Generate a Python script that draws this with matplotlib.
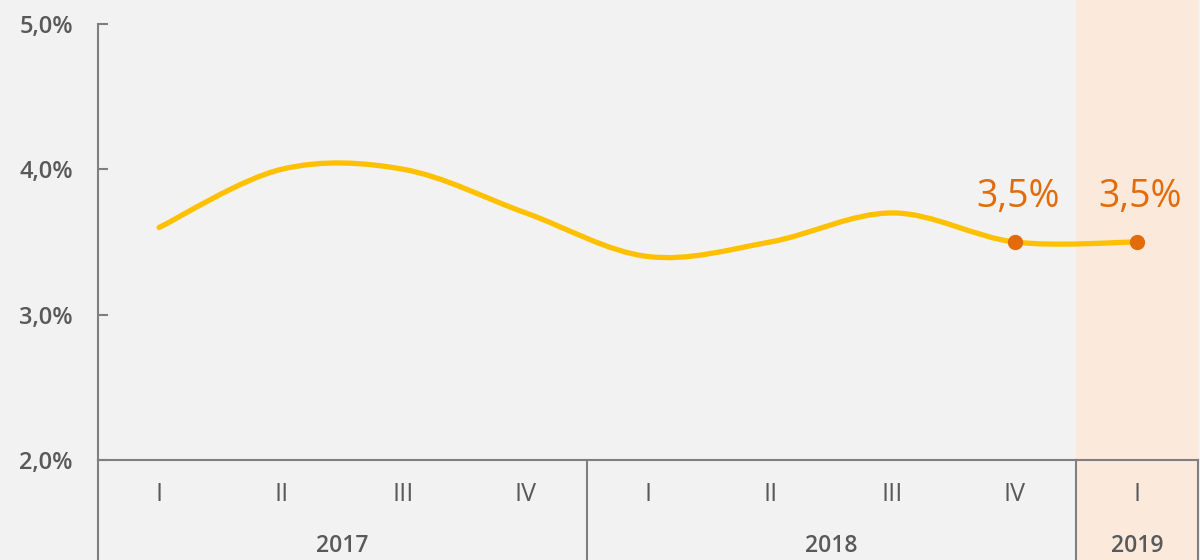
import matplotlib.pyplot as plt
from matplotlib.path import Path
from matplotlib.patches import PathPatch, Rectangle
import numpy as np

quarters = ['I', 'II', 'III', 'IV', 'I', 'II', 'III', 'IV', 'I']
years = ['2017', '2018', '2019']
year_spans = [(0, 3), (4, 7), (8, 8)]
values = [3.6, 4.0, 4.0, 3.7, 3.4, 3.5, 3.7, 3.5, 3.5]
labelled = [7, 8]
yticks = [2.0, 3.0, 4.0, 5.0]

bg = '#f2f2f2'
text_col = '#595959'
axis_col = '#7f7f7f'
line_col = '#ffc000'
dot_col = '#e36c09'
hl_col = '#fbe9dc'

plt.rcParams['font.family'] = ['Open Sans', 'DejaVu Sans']

fig = plt.figure(figsize=(12, 5.6), dpi=100, facecolor=bg)
ax = fig.add_axes([98 / 1200, 100 / 560, 1100 / 1200, 436 / 560])
ax.set_facecolor(bg)
ax.set_xlim(-0.5, 8.5)
ax.set_ylim(2.0, 5.0)

# highlighted last period, runs from the figure top to the bottom edge
ax.add_patch(Rectangle((7.5, -0.23), 1.0, 1.3, transform=ax.get_xaxis_transform(),
                       facecolor=hl_col, edgecolor='none', clip_on=False, zorder=0))

# smoothed line (Bezier with 1/6 tangents, like a spreadsheet smoothed line)
x = np.arange(len(values), dtype=float)
y = np.array(values)
verts = [(x[0], y[0])]
codes = [Path.MOVETO]
n = len(x)
for i in range(n - 1):
    i0 = max(i - 1, 0)
    i3 = min(i + 2, n - 1)
    c1 = (x[i] + (x[i + 1] - x[i0]) / 6, y[i] + (y[i + 1] - y[i0]) / 6)
    c2 = (x[i + 1] - (x[i3] - x[i]) / 6, y[i + 1] - (y[i3] - y[i]) / 6)
    verts += [c1, c2, (x[i + 1], y[i + 1])]
    codes += [Path.CURVE4] * 3
ax.add_patch(PathPatch(Path(verts, codes), facecolor='none', edgecolor=line_col,
                       lw=3.8, capstyle='round', zorder=3))

for i in labelled:
    ax.plot(x[i], y[i], 'o', color=dot_col, ms=10, zorder=4)
    ax.text(x[i] + 0.03, y[i] + 0.24, f'{values[i]:.1f}%'.replace('.', ','), color=dot_col,
            fontsize=27, ha='center', va='baseline', zorder=5)

# axes styling
for s in ['top', 'right']:
    ax.spines[s].set_visible(False)
ax.spines['left'].set_color(axis_col)
ax.spines['bottom'].set_color(axis_col)
ax.spines['left'].set_linewidth(1.5)
ax.spines['bottom'].set_linewidth(1.5)
ax.set_yticks(yticks)
ax.set_yticklabels([f'{v:.1f}%'.replace('.', ',') for v in yticks])
ax.tick_params(axis='y', direction='in', length=7, width=1.5, color=axis_col,
               labelcolor=text_col, labelsize=17, pad=18)
for lbl in ax.get_yticklabels():
    lbl.set_fontweight('semibold')
ax.set_xticks([])

# two-level category axis below the plot
tr = ax.get_xaxis_transform()
for i, q in enumerate(quarters):
    ax.text(i, -0.078, q, transform=tr, ha='center', va='center',
            fontsize=18, color=text_col)
for yr, (a, b) in zip(years, year_spans):
    ax.text((a + b) / 2, -0.197, yr, transform=tr, ha='center', va='center',
            fontsize=16.5, fontweight='semibold', color=text_col)
for xs in [-0.5, 3.5, 7.5, 8.5]:
    ax.plot([xs, xs], [0, -0.23], transform=tr, color=axis_col, lw=1.5,
            clip_on=False, zorder=2)
ax.plot([-0.5, -0.5], [1.0, 0.0], color=axis_col, lw=1.5)

fig.savefig('out.png', dpi=100, facecolor=bg)
